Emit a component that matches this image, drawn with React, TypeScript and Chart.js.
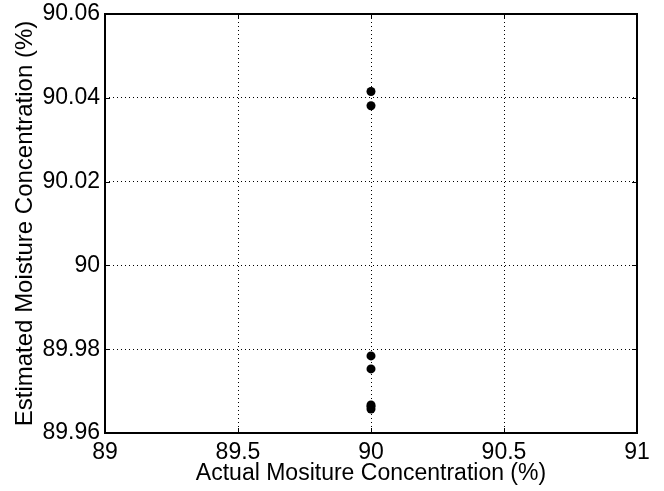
import React, { useEffect, useRef } from "react";
import { Chart, registerables } from "chart.js";

Chart.register(...registerables);

const actualValues = [90, 90, 90, 90, 90, 90, 90];
const estimatedValues = [90.0415, 90.0381, 89.9784, 89.9753, 89.9667, 89.9663, 89.9657];
const xTicks = [89, 89.5, 90, 90.5, 91];
const yTicks = [89.96, 89.98, 90, 90.02, 90.04, 90.06];
const xTitle = "Actual Mositure Concentration (%)";
const yTitle = "Estimated Moisture Concentration (%)";

const FONT = "'Liberation Sans', Arial, Helvetica, sans-serif";

const boxPlugin = {
  id: "matlabBox",
  afterDraw(chart: any) {
    const { ctx, chartArea } = chart;
    const { left, right, top, bottom } = chartArea;
    const xs = chart.scales.x;
    const ys = chart.scales.y;
    ctx.save();
    ctx.strokeStyle = "#000";
    ctx.lineWidth = 1;
    const tl = 5;
    ctx.beginPath();
    xTicks.forEach((v) => {
      const px = Math.round(xs.getPixelForValue(v)) + 0.5;
      ctx.moveTo(px, bottom);
      ctx.lineTo(px, bottom - tl);
      ctx.moveTo(px, top);
      ctx.lineTo(px, top + tl);
    });
    yTicks.forEach((v) => {
      const py = Math.round(ys.getPixelForValue(v)) + 0.5;
      ctx.moveTo(left, py);
      ctx.lineTo(left + tl, py);
      ctx.moveTo(right, py);
      ctx.lineTo(right - tl, py);
    });
    ctx.stroke();
    ctx.lineWidth = 2;
    ctx.strokeRect(Math.round(left), Math.round(top), Math.round(right - left), Math.round(bottom - top));
    ctx.restore();
  },
};

const fmt = (v: number) => String(parseFloat(Number(v).toFixed(4)));

export default function App() {
  const ref = useRef<HTMLCanvasElement | null>(null);
  useEffect(() => {
    if (!ref.current) return;
    const data = actualValues.map((x, i) => ({ x, y: estimatedValues[i] }));
    const chart = new Chart(ref.current, {
      type: "scatter",
      data: {
        datasets: [
          {
            data,
            backgroundColor: "#000",
            borderColor: "#000",
            pointRadius: 4.5,
            pointBorderWidth: 0,
          },
        ],
      },
      plugins: [boxPlugin],
      options: {
        animation: false,
        responsive: false,
        devicePixelRatio: 1,
        layout: { padding: { top: 14, right: 27, left: 0, bottom: 0 } },
        plugins: { legend: { display: false }, tooltip: { enabled: false } },
        scales: {
          x: {
            type: "linear",
            min: 89,
            max: 91,
            afterBuildTicks: (s: any) => {
              s.ticks = xTicks.map((value) => ({ value }));
            },
            afterFit: (s: any) => {
              s.height = 58;
              s.paddingLeft = 0;
              s.paddingRight = 0;
            },
            grid: { color: "#000", lineWidth: 1, drawTicks: false },
            border: { display: false, dash: [1, 3] },
            ticks: {
              color: "#000",
              padding: 6,
              maxRotation: 0,
              font: { family: FONT, size: 23 },
              callback: (v: any) => fmt(v),
            },
            title: {
              display: true,
              text: xTitle,
              color: "#000",
              font: { family: FONT, size: 23 },
              padding: { top: 0, bottom: 4 },
            },
          },
          y: {
            type: "linear",
            min: 89.96,
            max: 90.06,
            afterBuildTicks: (s: any) => {
              s.ticks = yTicks.map((value) => ({ value }));
            },
            afterFit: (s: any) => {
              s.width = 105;
              s.paddingTop = 0;
              s.paddingBottom = 0;
            },
            grid: { color: "#000", lineWidth: 1, drawTicks: false },
            border: { display: false, dash: [1, 3] },
            ticks: {
              color: "#000",
              padding: 5,
              font: { family: FONT, size: 23 },
              callback: (v: any) => fmt(v),
            },
            title: {
              display: true,
              text: yTitle,
              color: "#000",
              font: { family: FONT, size: 24 },
              padding: { top: 11, bottom: 0 },
            },
          },
        },
      },
    });
    return () => chart.destroy();
  }, []);
  return (
    <div style={{ position: "fixed", left: 0, top: 0, width: 664, height: 491, background: "#fff" }}>
      <canvas ref={ref} width={664} height={491} style={{ display: "block" }} />
    </div>
  );
}
